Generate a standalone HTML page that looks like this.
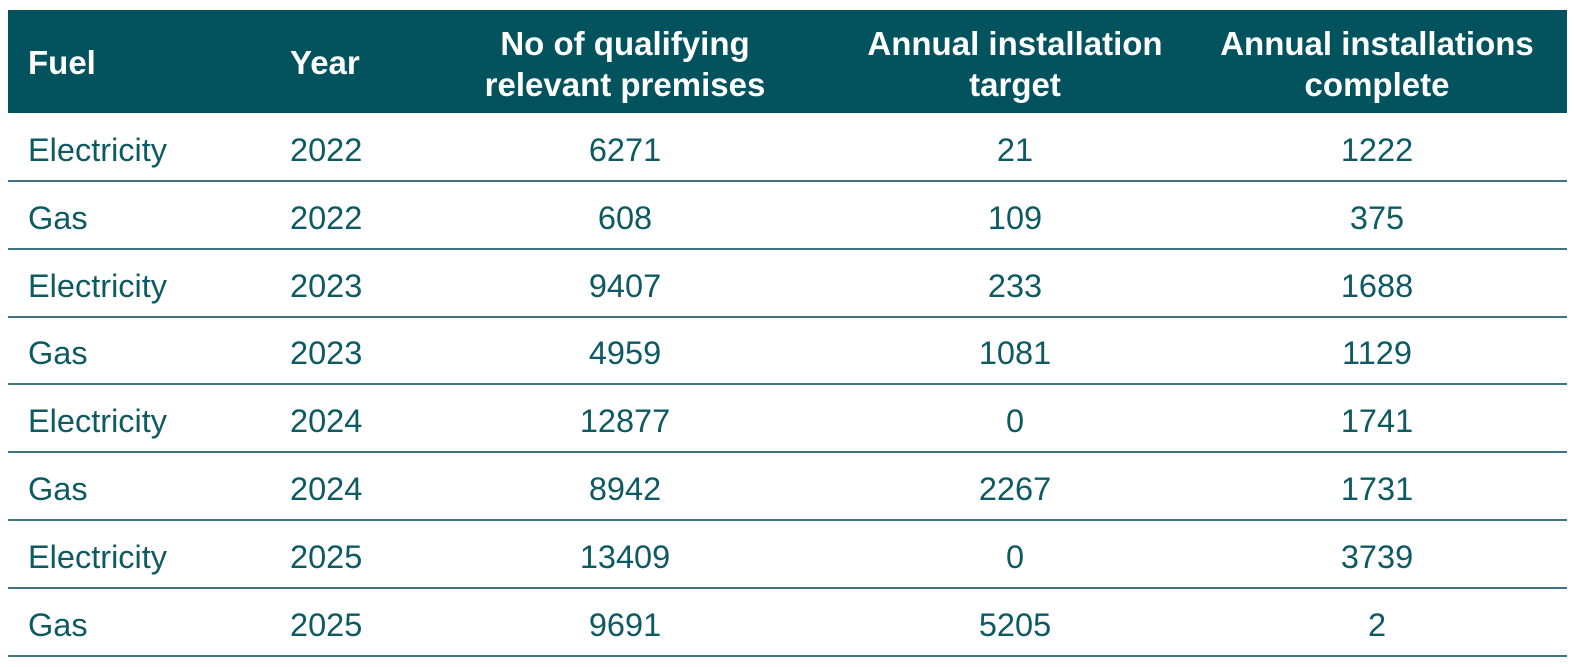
<!DOCTYPE html>
<html><head><style>
body{margin:0;width:1575px;height:667px;background:#fff;font-family:"Liberation Sans",sans-serif;position:relative;overflow:hidden}
.h{position:absolute;left:8px;top:10px;width:1559px;height:103px;background:#03535e}
.t{position:absolute;color:#fff;font-weight:bold;font-size:33px;line-height:41px;white-space:nowrap}
.c{text-align:center;transform:translateX(-50%)}
.r{position:absolute;left:8px;width:1559px;height:68px;border-bottom:2px solid #3f7580;box-sizing:border-box}
.d{position:absolute;color:#0d5a63;font-size:32.5px;line-height:38px;top:17px;white-space:nowrap}
</style></head><body>
<div class="h">
<div class="t" style="left:20px;top:32px">Fuel</div>
<div class="t" style="left:282px;top:32px">Year</div>
<div class="t c" style="left:617px;top:13px">No of qualifying<br>relevant premises</div>
<div class="t c" style="left:1007px;top:13px">Annual installation<br>target</div>
<div class="t c" style="left:1369px;top:13px">Annual installations<br>complete</div>
</div>
<div id="rows"></div>
<script>
var d=[["Electricity",2022,6271,21,1222],["Gas",2022,608,109,375],["Electricity",2023,9407,233,1688],["Gas",2023,4959,1081,1129],["Electricity",2024,12877,0,1741],["Gas",2024,8942,2267,1731],["Electricity",2025,13409,0,3739],["Gas",2025,9691,5205,2]];
var h="";d.forEach(function(r,i){h+='<div class="r" style="top:'+(114+i*67.8)+'px"><div class="d" style="left:20px">'+r[0]+'</div><div class="d" style="left:282px">'+r[1]+'</div><div class="d c" style="left:617px">'+r[2]+'</div><div class="d c" style="left:1007px">'+r[3]+'</div><div class="d c" style="left:1369px">'+r[4]+'</div></div>';});
document.getElementById("rows").innerHTML=h;
</script>
</body></html>
